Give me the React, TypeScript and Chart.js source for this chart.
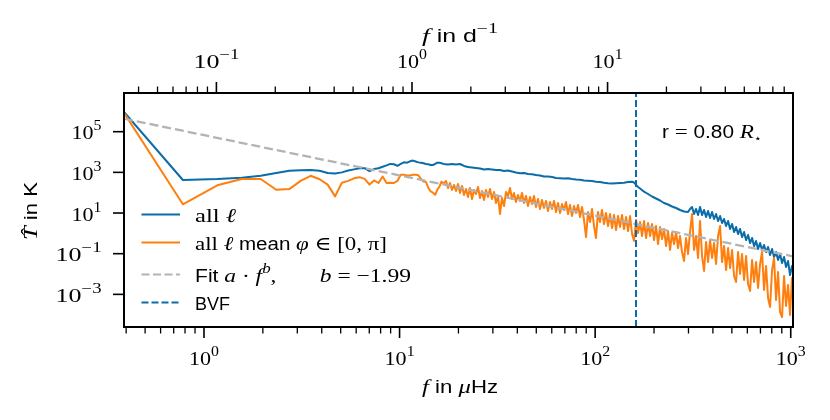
import { useEffect, useRef } from 'react'
import { Chart, registerables } from 'chart.js'

Chart.register(...registerables)

// frequencies in µHz, amplitudes in K
const lowFreq = [0.39, 0.78, 1.17, 1.56, 1.95, 2.34, 2.73, 3.12, 3.51, 3.9, 4.29, 4.68, 5.07, 5.46, 5.85, 6.24, 6.63, 7.02, 7.41, 7.8, 8.19, 8.58, 8.97, 9.36, 9.75, 10.14, 10.53, 10.92, 11.31, 11.7, 12.09, 12.48, 12.87, 13.26, 13.65, 14.04, 14.43, 14.82, 15.21, 15.6, 15.99, 16.38, 16.77]
const allLow = [9.3e5, 420, 470, 550, 680, 930, 1200, 1260, 1300, 1200, 930, 870, 1000, 1230, 1400, 1600, 1600, 1150, 1450, 1600, 1900, 2200, 2600, 2500, 2100, 2600, 3100, 3000, 3500, 3800, 3400, 3100, 3000, 2800, 2600, 2500, 2300, 2300, 2600, 3000, 3000, 2800, 2600]
const meanLow = [8.5e5, 27, 230, 470, 470, 140, 150, 380, 680, 460, 250, 66, 310, 380, 510, 580, 480, 250, 400, 300, 620, 300, 310, 300, 380, 760, 760, 710, 710, 760, 760, 720, 480, 350, 340, 170, 115, 100, 79, 140, 200, 350, 280]

const allHighFreq = [17.69, 18.54, 19.44, 20.37, 21.35, 22.38, 23.46, 24.59, 25.78, 27.02, 28.33, 29.69, 31.12, 32.62, 34.2, 35.84, 37.57, 39.38, 41.28, 43.27, 45.36, 47.55, 49.84, 52.24, 54.76, 57.41, 60.18, 63.08, 66.12, 69.31, 72.66, 76.16, 79.84, 83.69, 87.73, 91.96, 96.39, 101, 105.9, 111, 116.4, 122, 127.9, 134, 140.5, 147.3, 154.4, 158.1, 161.8, 165.7, 169.7, 177.8, 186.4, 195.4, 204.8, 214.7, 225, 235.9, 247.3, 259.2, 271.6, 284.8, 298.5, 305.6, 312.9, 320.4, 328, 335.8, 343.8, 352, 360.4, 369, 377.8, 386.8, 396, 405.5, 415.1, 425, 435.2, 445.6, 456.2, 467.1, 478.2, 489.6, 501.2, 513.2, 525.4, 537.9, 550.7, 563.8, 577.3, 591, 605.1, 619.5, 634.3, 649.4, 664.8, 680.7, 696.9, 713.5, 730.4, 747.9, 765.6, 783.9, 802.6, 821.7, 841.2, 861.2, 881.8, 902.8, 924.3, 946.2, 968.9, 991.9, 1015, 1027]
const allHigh = [2440, 2580, 2440, 2580, 2060, 1840, 1730, 1640, 1550, 1380, 1460, 1380, 1310, 1310, 1170, 1230, 1100, 984, 899, 929, 830, 803, 741, 701, 626, 626, 592, 528, 511, 499, 511, 471, 446, 431, 398, 389, 376, 347, 336, 310, 290, 283, 290, 300, 310, 336, 347, 317, 239, 191, 161, 112, 86.3, 65, 51.8, 41.3, 31.1, 26.2, 20.9, 17.7, 14.1, 11.9, 11.2, 15.8, 19.8, 8.95, 15.8, 7.99, 19.8, 7.99, 14.1, 6.37, 12.6, 5.69, 11.2, 5.08, 8.95, 4.05, 7.13, 3.23, 5.08, 2.3, 4.05, 1.64, 2.88, 1.16, 2.05, 0.929, 1.64, 0.661, 1.16, 0.471, 0.829, 0.335, 0.59, 0.238, 0.42, 0.17, 0.335, 0.152, 0.267, 0.121, 0.213, 0.0861, 0.17, 0.0686, 0.121, 0.0489, 0.0964, 0.0348, 0.0686, 0.0221, 0.0436, 0.00894, 0.0248, 0.0141]

const meanHighFreq = [17.28, 17.69, 18.11, 18.54, 18.98, 19.44, 19.9, 20.37, 20.86, 21.35, 21.86, 22.38, 22.92, 23.46, 24.02, 24.59, 25.18, 25.78, 26.39, 27.02, 27.67, 28.33, 29.0, 29.69, 30.4, 31.12, 31.86, 32.62, 33.4, 34.2, 35.01, 35.84, 36.7, 37.57, 38.47, 39.38, 40.32, 41.28, 42.27, 43.27, 44.3, 45.36, 46.44, 47.55, 48.68, 49.84, 51.03, 52.24, 53.49, 54.76, 56.07, 57.41, 58.77, 60.18, 61.61, 63.08, 64.58, 66.12, 67.7, 69.31, 70.96, 72.66, 74.39, 76.16, 77.98, 79.84, 81.74, 83.69, 85.69, 87.73, 89.82, 91.96, 94.15, 96.39, 98.68, 101.0, 103.4, 105.9, 108.4, 111.0, 113.6, 116.4, 119.1, 122.0, 124.9, 127.9, 130.9, 134.0, 137.2, 140.5, 143.9, 147.3, 150.8, 154.4, 158.1, 161.8, 165.7, 169.7, 173.7, 177.8, 182.1, 186.4, 190.9, 195.4, 200.0, 204.8, 209.7, 214.7, 219.8, 225.0, 230.4, 235.9, 241.5, 247.3, 253.1, 259.2, 265.4, 271.6, 278.1, 284.8, 291.5, 298.5, 305.6, 312.9, 320.4, 328.0, 335.8, 343.8, 352.0, 360.4, 369.0, 377.8, 386.8, 396.0, 405.5, 415.1, 425.0, 435.2, 445.6, 456.2, 467.1, 478.2, 489.6, 501.2, 513.2, 525.4, 537.9, 550.7, 563.8, 577.3, 591.0, 605.1, 619.5, 634.3, 649.4, 664.8, 680.7, 696.9, 713.5, 730.4, 747.9, 765.6, 783.9, 802.6, 821.7, 841.2, 861.2, 881.8, 902.8, 924.3, 946.2, 968.9, 991.9, 1015, 1027]
const meanHigh = [376, 170, 300, 136, 239, 121, 268, 96.5, 213, 77.0, 152, 61.4, 170, 48.9, 136, 86.2, 191, 54.8,
  121, 43.7, 136, 61.4, 152, 48.9, 108, 31.1, 68.7, 8.95, 54.8, 22.1, 108, 68.7, 170, 48.9, 96.5, 34.8, 77.0, 39.0,
  96.5, 31.1, 68.7, 22.1, 61.4, 27.8, 68.7, 19.8, 48.9, 15.8, 43.7, 17.7, 39.0, 12.6, 34.8, 15.8, 39.0, 11.2, 31.1, 10.0,
  27.8, 14.1, 34.8, 8.95, 24.8, 7.13, 22.1, 10.0, 24.8, 6.37, 19.8, 4.53, 0.661, 11.2, 3.61, 15.8, 2.30, 0.590, 11.2, 3.61,
  14.1, 2.88, 10.0, 2.30, 8.95, 1.83, 7.99, 1.46, 7.13, 2.05, 7.99, 1.64, 6.37, 1.30, 7.13, 0.929, 0.420, 4.53, 1.04, 3.61,
  0.740, 4.05, 0.590, 3.23, 0.740, 2.88, 0.471, 2.30, 0.299, 2.05, 0.527, 1.64, 0.238, 1.30, 0.152, 1.04, 0.299, 1.16, 0.190, 0.740,
  0.121, 0.0436, 0.590, 0.0964, 1.16, 8.95, 0.152, 0.740, 0.0613, 4.05, 0.0769, 0.0141, 0.375, 0.0390, 0.471, 0.0613, 0.335, 0.0311, 0.740, 2.30,
  0.0390, 0.238, 0.0157, 0.190, 0.0197, 0.152, 0.00798, 0.00404, 0.121, 0.0100, 0.0964, 0.00507, 0.0769, 0.00322, 0.00146, 0.0489, 0.00404, 0.0390, 0.00205, 0.0311,
  0.121, 0.00163, 0.0248, 0.000660, 0.000239, 0.0157, 0.0613, 0.000526, 0.0126, 0.000135, 0.0000768, 0.00798, 0.000267, 0.00288, 0.0000964, 0.00636, 0.000828]

const fitFreq = [0.39, 1027]
const fitTemp = [4.36e5, 0.0735]
const bvfFreq = 161.8

const xRange = [0.39, 1027]
const yRange = [2.48e-5, 8.0e6]
const perDay = 0.0864 // µHz -> d^-1
const xTicks = [1, 10, 100, 1000]
const xTopTicks = [0.1, 1, 10]
const yTicks = [1e-3, 1e-1, 1e1, 1e3, 1e5]

const BLUE = '#0a6ca8'
const ORANGE = '#ff7f0e'
const GRAY = '#b3b3b3'

const SERIF = "'Liberation Serif', 'DejaVu Serif', serif"
const SANS = "'Liberation Sans', 'DejaVu Sans', sans-serif"
const RM = `19.5px ${SERIF}`
const IT = `italic 19.5px ${SERIF}`
const SUP = `14px ${SERIF}`
const SUPIT = `italic 14px ${SERIF}`
const SF = `17.5px ${SANS}`

type Seg = { t: string; f: string; dy?: number; gap?: number }

// draws a run of mixed-font text, stretched horizontally to a target width
function drawRich(ctx: CanvasRenderingContext2D, segs: Seg[], x: number, y: number, align: 'left' | 'center' | 'right', width: number) {
  const ws = segs.map(s => {
    if (s.gap) return s.gap
    ctx.font = s.f
    return ctx.measureText(s.t).width
  })
  const total = ws.reduce((a, b) => a + b, 0)
  const k = width / total
  const x0 = align === 'left' ? x : align === 'center' ? x - width / 2 : x - width
  ctx.save()
  ctx.translate(x0, y)
  ctx.scale(k, 1)
  let cx = 0
  segs.forEach((s, i) => {
    if (!s.gap) {
      ctx.font = s.f
      ctx.fillText(s.t, cx, s.dy || 0)
    }
    cx += ws[i]
  })
  ctx.restore()
}

function pow10(v: number): [Seg[], number] {
  const e = Math.round(Math.log10(v))
  const segs = [{ t: '10', f: RM }, { t: String(e).replace('-', '\u2212'), f: SUP, dy: -9 }]
  return [segs, e < 0 ? 46 : 30]
}

const legendItems = [
  { color: BLUE, dash: [] as number[], w: 41, segs: [{ t: 'all ', f: RM }, { t: 'ℓ', f: IT }] },
  { color: ORANGE, dash: [] as number[], w: 192, segs: [{ t: 'all ', f: RM }, { t: 'ℓ', f: IT }, { t: ' mean ', f: SF }, { t: 'φ', f: IT }, { t: ' ∈ [0, π]', f: RM }] },
  { color: GRAY, dash: [8, 3.5], w: 216, segs: [{ t: 'Fit ', f: SF }, { t: 'a', f: IT }, { t: ' · ', f: RM }, { t: 'f', f: IT }, { t: 'b', f: SUPIT, dy: -8.5 }, { t: ',', f: RM }, { t: '', f: RM, gap: 36 }, { t: 'b', f: IT }, { t: ' = \u22121.99', f: RM }] },
  { color: BLUE, dash: [7, 3], w: 35, segs: [{ t: 'BVF', f: SF }] },
]
const legendY = [214.5, 242.5, 274.5, 302.5]

const decor = {
  id: 'decor',
  afterDraw(chart: any) {
    const { ctx, chartArea: a, scales } = chart
    const x = scales.x
    const xt = scales.xTop
    const y = scales.y
    ctx.save()
    ctx.strokeStyle = '#000'
    ctx.fillStyle = '#000'
    ctx.textBaseline = 'alphabetic'
    ctx.textAlign = 'left'
    const tick = (px: number, py: number, dx: number, dy: number, w: number) => {
      ctx.lineWidth = w
      ctx.beginPath()
      ctx.moveTo(px, py)
      ctx.lineTo(px + dx, py + dy)
      ctx.stroke()
    }
    for (let e = -2; e <= 3; e++) {
      for (let m = 2; m <= 9; m++) {
        const v = m * Math.pow(10, e)
        if (v > x.min && v < x.max) tick(x.getPixelForValue(v), a.bottom, 0, 6.5, 1.3)
        if (v > xt.min && v < xt.max) tick(xt.getPixelForValue(v), a.top, 0, -6.5, 1.3)
      }
    }
    xTicks.forEach(v => {
      const px = x.getPixelForValue(v)
      tick(px, a.bottom, 0, 11, 1.6)
      const [segs, w] = pow10(v)
      drawRich(ctx, segs, px, 365, 'center', w)
    })
    xTopTicks.forEach(v => {
      const px = xt.getPixelForValue(v)
      tick(px, a.top, 0, -11, 1.6)
      const [segs, w] = pow10(v)
      drawRich(ctx, segs, px, 68, 'center', w)
    })
    yTicks.forEach(v => {
      const py = y.getPixelForValue(v)
      tick(a.left, py, -11, 0, 1.6)
      const [segs, w] = pow10(v)
      drawRich(ctx, segs, 101.5, py + 7.5, 'right', w)
    })
    ctx.lineWidth = 2
    ctx.strokeRect(a.left, a.top, a.right - a.left, a.bottom - a.top)

    drawRich(ctx, [{ t: 'f', f: IT }, { t: ' in ', f: SF }, { t: 'μ', f: IT }, { t: 'Hz', f: SF }], 422, 393, 'left', 76)
    drawRich(ctx, [{ t: 'f', f: IT }, { t: ' in d', f: SF }, { t: '\u22121', f: SUP, dy: -9 }], 422, 41.5, 'left', 76)

    ctx.save()
    ctx.translate(37, 211)
    ctx.rotate(-Math.PI / 2)
    drawRich(ctx, [{ t: 'T\u0302', f: IT }, { t: ' in K', f: SF }], 0, 0, 'center', 58)
    ctx.restore()

    drawRich(ctx, [{ t: 'r', f: SF }, { t: ' = ', f: RM }, { t: '0.80 ', f: SF }, { t: 'R', f: IT }, { t: '⋆', f: `11px ${SANS}`, dy: 4 }], 662, 137.5, 'left', 100)

    legendItems.forEach((it, i) => {
      const ly = legendY[i]
      ctx.strokeStyle = it.color
      ctx.lineWidth = 2
      ctx.setLineDash(it.dash)
      ctx.beginPath()
      ctx.moveTo(141.5, ly)
      ctx.lineTo(180, ly)
      ctx.stroke()
      ctx.setLineDash([])
      drawRich(ctx, it.segs, 195, ly + 7, 'left', it.w)
    })
    ctx.restore()
  },
}

export default function App() {
  const canvasRef = useRef<HTMLCanvasElement>(null)

  useEffect(() => {
    if (!canvasRef.current) return
    document.body.style.margin = '0'

    const allPts = [
      ...lowFreq.map((f, i) => ({ x: f, y: allLow[i] })),
      ...allHighFreq.map((f, i) => ({ x: f, y: allHigh[i] })),
    ]
    const meanPts = [
      ...lowFreq.map((f, i) => ({ x: f, y: meanLow[i] })),
      ...meanHighFreq.map((f, i) => ({ x: f, y: meanHigh[i] })),
    ]

    const chart = new Chart(canvasRef.current, {
      type: 'line',
      data: {
        datasets: [
          {
            label: 'BVF',
            data: [{ x: bvfFreq, y: yRange[0] }, { x: bvfFreq, y: yRange[1] }],
            borderColor: BLUE,
            borderWidth: 2,
            borderDash: [7, 3],
            pointRadius: 0,
            order: 0,
          },
          {
            label: 'Fit',
            data: fitFreq.map((f, i) => ({ x: f, y: fitTemp[i] })),
            borderColor: GRAY,
            borderWidth: 2.3,
            borderDash: [9, 4],
            pointRadius: 0,
            order: 1,
          },
          {
            label: 'all l mean',
            data: meanPts,
            borderColor: ORANGE,
            borderWidth: 2,
            borderJoinStyle: 'round',
            pointRadius: 0,
            order: 2,
          },
          {
            label: 'all l',
            data: allPts,
            borderColor: BLUE,
            borderWidth: 2,
            borderJoinStyle: 'round',
            pointRadius: 0,
            order: 3,
          },
        ],
      },
      options: {
        animation: false,
        responsive: false,
        events: [],
        layout: { padding: { left: 0, right: 37, top: 0, bottom: 0 } },
        plugins: { legend: { display: false }, tooltip: { enabled: false } },
        scales: {
          x: {
            type: 'logarithmic',
            position: 'bottom',
            min: xRange[0],
            max: xRange[1],
            grid: { display: false },
            border: { display: false },
            ticks: { display: false },
            afterFit: (s: any) => { s.height = 93 },
          },
          xTop: {
            type: 'logarithmic',
            position: 'top',
            min: xRange[0] * perDay,
            max: xRange[1] * perDay,
            grid: { display: false },
            border: { display: false },
            ticks: { display: false },
            afterFit: (s: any) => { s.height = 93 },
          },
          y: {
            type: 'logarithmic',
            position: 'left',
            min: yRange[0],
            max: yRange[1],
            grid: { display: false },
            border: { display: false },
            ticks: { display: false },
            afterFit: (s: any) => { s.width = 124 },
          },
        },
      } as any,
      plugins: [decor],
    })

    return () => {
      chart.destroy()
    }
  }, [])

  return (
    <div style={{ width: 830, height: 420, background: '#fff' }}>
      <canvas ref={canvasRef} width={830} height={420} style={{ display: 'block' }}></canvas>
    </div>
  )
}
